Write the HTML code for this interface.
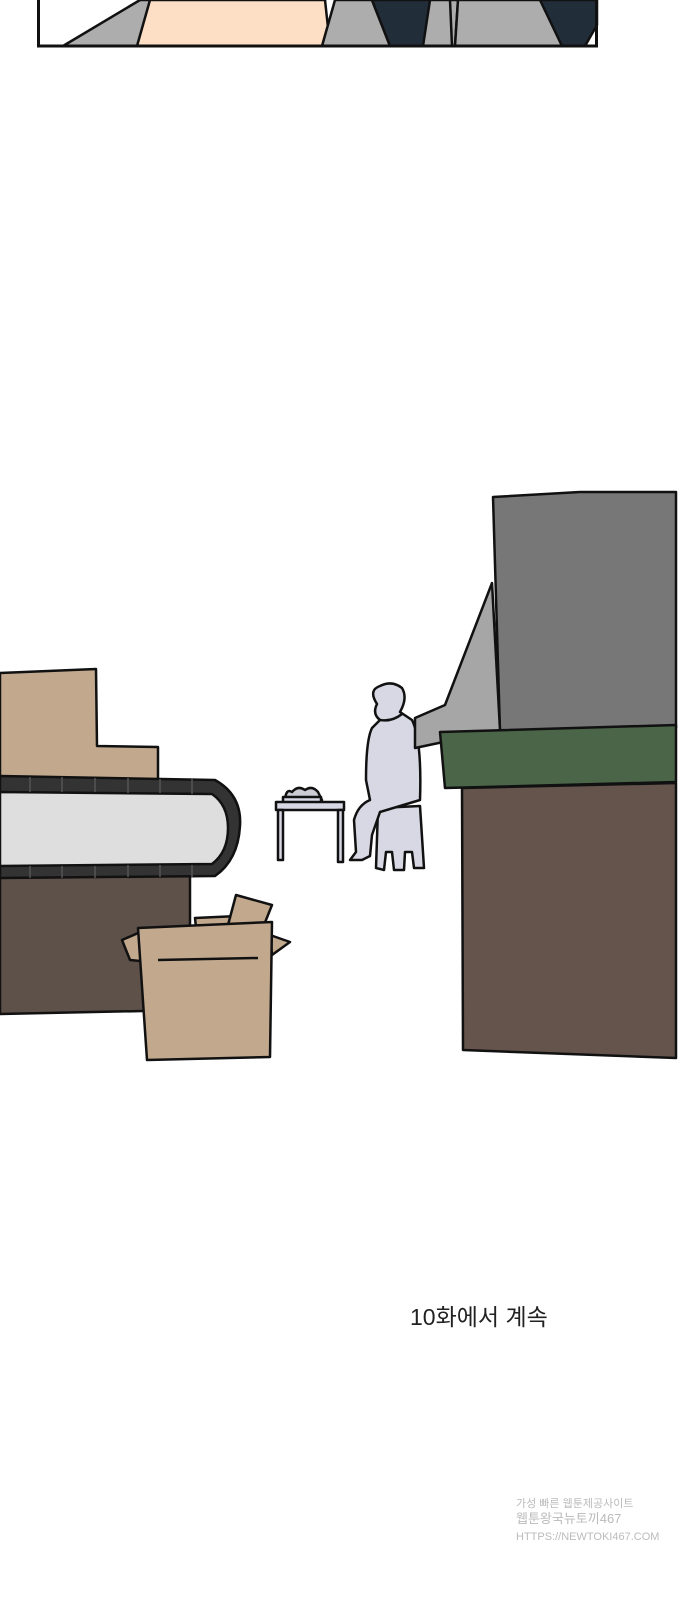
<!DOCTYPE html>
<html><head><meta charset="utf-8"><style>
html,body{margin:0;padding:0;background:#fff;width:690px;height:1600px;overflow:hidden}
svg{display:block}
.t{font-family:"Liberation Sans","Noto Sans CJK KR",sans-serif}
</style></head><body>
<svg width="690" height="1600" viewBox="0 0 690 1600" xmlns="http://www.w3.org/2000/svg">
<g stroke="#111" stroke-width="2.5" stroke-linejoin="round">
<polygon points="63,46 140,0 325,0 320,46" fill="#adadad"/>
<polygon points="150,0 325,0 330,46 137,46" fill="#fcdfc5"/>
<polygon points="335,0 372,0 390,46 322,46" fill="#adadad"/>
<polygon points="372,0 430,0 425,46 390,46" fill="#222d3a"/>
<polygon points="430,0 458,0 455,46 423,46" fill="#adadad"/>
<polygon points="458,0 545,0 562,46 455,46" fill="#adadad"/>
<polygon points="540,0 597,0 597,25 585,46 562,46" fill="#222d3a"/>
<line x1="450" y1="0" x2="452" y2="46"/>
</g>
<rect x="38.5" y="-5" width="558" height="51" fill="none" stroke="#111" stroke-width="3"/>
<g stroke="#111" stroke-width="2.5" stroke-linejoin="round">
<polygon points="0,673 96,669 97,746 158,747 158,780 0,780" fill="#c2a98e"/>
<polygon points="0,876 190,874 190,1010 0,1014" fill="#5e514a"/>
<path d="M0,776 L215,780 Q242,795 240,826 Q238,860 215,876 L0,878 Z" fill="#333"/>
<path d="M0,792 L212,794 Q228,805 228,828 Q228,852 212,864 L0,866 Z" fill="#dedede"/>
</g>
<g stroke="#555" stroke-width="1.5">
<line x1="30" y1="777" x2="30" y2="792"/><line x1="62" y1="777" x2="62" y2="792"/><line x1="95" y1="778" x2="95" y2="792"/><line x1="128" y1="778" x2="128" y2="793"/><line x1="160" y1="779" x2="160" y2="793"/><line x1="192" y1="779" x2="192" y2="794"/>
<line x1="30" y1="866" x2="30" y2="878"/><line x1="62" y1="866" x2="62" y2="878"/><line x1="95" y1="866" x2="95" y2="878"/><line x1="128" y1="865" x2="128" y2="877"/><line x1="160" y1="865" x2="160" y2="877"/><line x1="192" y1="865" x2="192" y2="877"/>
</g>
<g stroke="#111" stroke-width="2.5" stroke-linejoin="round">
<polygon points="195,918 238,916 240,925 196,928" fill="#c2a98e"/>
<polygon points="236,895 272,905 262,930 228,925" fill="#c2a98e"/>
<polygon points="122,940 145,930 150,962 130,960" fill="#c2a98e"/>
<polygon points="270,935 290,942 272,955" fill="#c2a98e"/>
<polygon points="138,928 272,922 270,1057 147,1060" fill="#c2a98e"/>
<line x1="158" y1="960" x2="258" y2="958"/>
</g>
<g stroke="#111" stroke-width="2.5" stroke-linejoin="round" fill="#d7d8e4">
<path d="M285,800 Q286,788 292,792 Q298,785 305,790 Q312,785 318,792 L322,800 Z" fill="#ccccd4"/>
<rect x="283" y="797" width="38" height="6"/>
<rect x="276" y="802" width="68" height="8"/>
<rect x="278" y="810" width="5" height="50"/>
<rect x="338" y="810" width="5" height="52"/>
<path d="M378,808 L420,806 L424,868 L414,868 L412,852 L405,852 L404,870 L394,870 L392,852 L386,852 L384,870 L376,868 Z"/>
<path d="M377,704 Q368,690 380,686 Q392,680 402,688 Q408,698 400,712 L412,720 Q422,740 420,800 L380,812 L372,835 L370,856 L362,860 L350,860 L356,852 L354,820 Q358,805 370,800 L366,780 Q366,740 372,728 L380,720 Q372,714 377,704 Z"/>
<path d="M380,720 Q392,722 402,714" fill="none"/>
</g>
<g stroke="#111" stroke-width="2.5" stroke-linejoin="round">
<polygon points="493,497 580,492 676,492 676,728 500,732" fill="#777"/>
<polygon points="492,583 500,730 415,748 415,718 445,705" fill="#a6a6a6"/>
<polygon points="440,732 676,725 676,782 445,788" fill="#4b6549"/>
<polygon points="462,788 676,783 676,1058 463,1050" fill="#64544c"/>
</g>
<text x="410" y="1325" class="t" font-size="23" fill="#222">10화에서 계속</text>
<text x="516" y="1507" class="t" font-size="11" fill="#bbb">가성 빠른 웹툰제공사이트</text>
<text x="516" y="1523" class="t" font-size="13" fill="#bbb">웹툰왕국뉴토끼467</text>
<text x="516" y="1540" class="t" font-size="11" fill="#bbb">HTTPS://NEWTOKI467.COM</text>
</svg>
</body></html>
